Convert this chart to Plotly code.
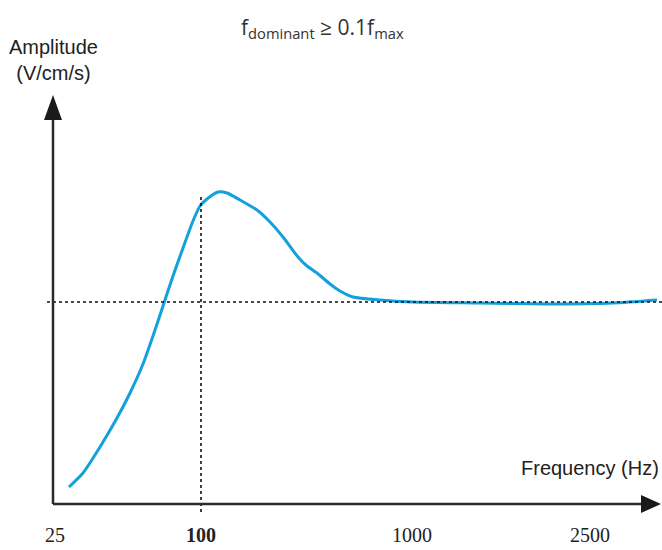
import plotly.graph_objects as go

# Schematic frequency position (axis units) and amplitude (axis units)
freq_pos = [16, 30, 47, 64, 77, 90, 100, 110, 120, 130, 140, 147, 154, 165, 174, 187,
            204, 217, 230, 245, 254, 264, 277, 287, 300, 327, 360, 427, 494, 560, 604]
amplitude = [17, 31, 57, 86, 111, 140, 168, 198, 228, 256, 283, 298, 305, 312, 311, 304,
             294, 282, 267, 247, 238, 231, 220, 213, 207, 204, 202, 201, 200, 201, 204]

tick_pos = [2, 148, 359, 537]
tick_text = ["25", "<b>100</b>", "1000", "2500"]

f_dominant_pos = 148   # position of 100 Hz
threshold_amp = 202    # 0.1 f_max level

W, H = 662, 550
X0, Y0 = 53, 504  # pixel location of origin

fig = go.Figure()
fig.add_trace(go.Scatter(
    x=freq_pos, y=amplitude, mode="lines",
    line=dict(color="#14a0dc", width=3, shape="spline", smoothing=0.6),
    hoverinfo="skip", showlegend=False,
))

axis_col = "#2a2a2a"
shapes = [
    # dotted reference lines
    dict(type="line", x0=-6, x1=W - X0, y0=threshold_amp, y1=threshold_amp,
         line=dict(color="#111", width=1.6, dash="dot")),
    dict(type="line", x0=f_dominant_pos, x1=f_dominant_pos, y0=-8, y1=308,
         line=dict(color="#111", width=1.6, dash="dot")),
    # axes
    dict(type="line", x0=0, x1=590, y0=0, y1=0, line=dict(color=axis_col, width=2.5)),
    dict(type="line", x0=0, x1=0, y0=0, y1=386, line=dict(color=axis_col, width=2.5)),
    dict(type="path", path="M 588,9 L 608,0 L 588,-9 Z", fillcolor="#1a1a1a",
         line=dict(width=0)),
    dict(type="path", path="M -9,384 L 0,409 L 9,384 Z", fillcolor="#1a1a1a",
         line=dict(width=0)),
]

annotations = [
    dict(text="f<sub>dominant</sub> ≥ 0.1f<sub>max</sub>", x=322 / W, y=1 - 28 / H,
         xref="paper", yref="paper", showarrow=False, xanchor="center", yanchor="middle",
         font=dict(family="Open Sans", size=21, color="#333")),
    dict(text="Amplitude<br>(V/cm/s)", x=53 / W, y=1 - 60 / H,
         xref="paper", yref="paper", showarrow=False, xanchor="center", yanchor="middle",
         font=dict(family="Liberation Sans", size=20, color="#222")),
    dict(text="Frequency (Hz)", x=661 / W, y=1 - 468 / H,
         xref="paper", yref="paper", showarrow=False, xanchor="right", yanchor="middle",
         font=dict(family="Liberation Sans", size=20, color="#222")),
]

fig.update_layout(
    width=W, height=H,
    margin=dict(l=0, r=0, t=0, b=0),
    paper_bgcolor="white", plot_bgcolor="white",
    shapes=shapes, annotations=annotations,
    xaxis=dict(range=[-X0, W - X0], anchor="free", position=(H - Y0) / H,
               showgrid=False, zeroline=False, showline=False, ticks="",
               tickvals=tick_pos, ticktext=tick_text, ticklabelstandoff=17,
               tickfont=dict(family="Liberation Serif", size=20, color="#222"),
               fixedrange=True),
    yaxis=dict(range=[-(H - Y0), Y0], showgrid=False, zeroline=False, showline=False,
               showticklabels=False, ticks="", fixedrange=True),
)

fig.write_html("out.html", config={"displayModeBar": False},
               post_script="document.body.style.margin='0';document.body.style.overflow='hidden';")
